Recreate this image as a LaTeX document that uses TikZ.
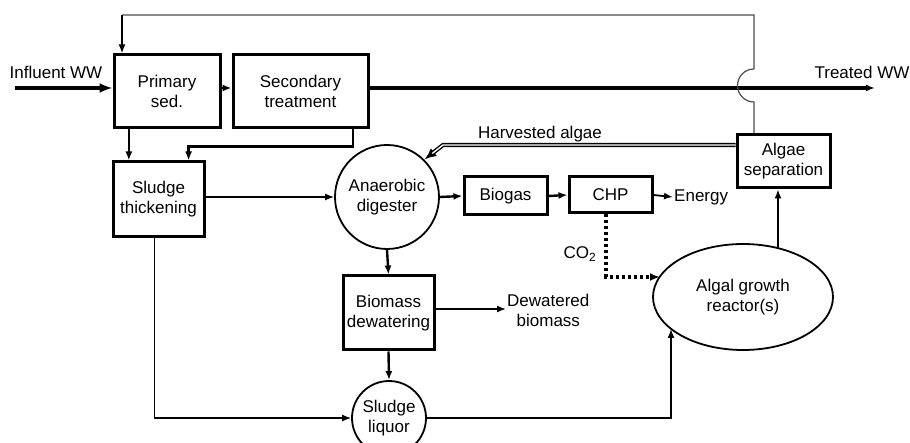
\documentclass[tikz,border=0pt]{standalone}
\usepackage{fontspec}
\setmainfont{Liberation Sans}
\usetikzlibrary{positioning, arrows.meta, calc, shapes.geometric}
\newcommand{\flowfont}{\fontsize{17}{20}\selectfont}
\tikzset{
  flowbox/.style   = {draw, line width=3pt, align=center, font=\flowfont, inner sep=2pt},
  flowround/.style = {draw, line width=1.8pt, align=center, font=\flowfont, inner sep=0pt},
  flowarr/.style   = {-{Latex[length=9pt,width=7pt]}, line width=2.4pt},
  flowarrt/.style  = {-{Latex[length=9pt,width=7pt]}, line width=1.4pt},
  flowlbl/.style   = {font=\flowfont, align=center, inner sep=1pt},
}

\begin{document}
\begin{tikzpicture}[x=1pt, y=-1pt]
    \useasboundingbox (0,0) rectangle (910,443);
    \clip (0,0) rectangle (910,443);
    % treatment units
    \node[flowbox, minimum width=106pt, minimum height=73pt] (prim) at (167,91.5) {Primary\\sed.};
    \node[flowbox, minimum width=135pt, minimum height=73pt] (sec) at (300.5,91.5) {Secondary\\treatment};
    \node[flowbox, minimum width=91pt, minimum height=75pt] (thick) at (158.5,199.5) {Sludge\\thickening};
    \node[flowround, circle, minimum size=104pt] (dig) at (387,197) {Anaerobic\\digester};
    \node[flowbox, minimum width=83pt, minimum height=38pt] (biogas) at (505.5,196) {Biogas};
    \node[flowbox, minimum width=83pt, minimum height=36pt] (chp) at (610.5,195) {CHP};
    \node[flowbox, minimum width=93pt, minimum height=53pt] (algsep) at (783.5,161.5) {Algae\\separation};
    \node[flowround, ellipse, minimum width=180pt, minimum height=106pt] (reactor) at (743,297) {Algal growth\\reactor(s)};
    \node[flowbox, minimum width=91pt, minimum height=74pt] (dewater) at (388.5,313) {Biomass\\dewatering};
    \node[flowround, circle, minimum size=74pt] (liquor) at (389,418) {Sludge\\liquor};
    % labels
    \node[flowlbl] (influent) at (56,72) {Influent WW};
    \node[flowlbl] (treatedlbl) at (862,72) {Treated WW};
    \node[flowlbl] (harvest) at (540,134) {Harvested algae};
    \node[flowlbl, anchor=west] (energy) at (673,197) {Energy};
    \node[flowlbl] (co2) at (580,254) {CO\textsubscript{2}};
    \node[flowlbl, anchor=west] (dried) at (506,310) {Dewatered\\biomass};
    % free ends and bends
    \coordinate (inflow) at (15,88);
    \coordinate (treated) at (875,88);
    \coordinate (rtop) at (122,15);
    \coordinate (rdown) at (754,133);
    \coordinate (harvbend) at (443,145);
    \coordinate (co2in) at (660,277);
    \coordinate (feedin) at (671,329);
    \coordinate (reactorout) at (778,248);
    \coordinate (primout) at ($(prim.south west)!0.15!(prim.south east)$);
    \coordinate (secout) at ($(sec.south west)!0.88!(sec.south east)$);
    \coordinate (thickin) at ($(thick.north west)!0.82!(thick.north east)$);
    \coordinate (thickout) at ($(thick.south west)!0.46!(thick.south east)$);
    % main water line
    \draw[flowarr, -{Latex[length=13pt,width=10pt]}, line width=3.2pt] (inflow) -- (inflow -| prim.west);
    \draw[flowarr] ([yshift=3.5pt]prim.east) -- ([yshift=3.5pt]sec.west);
    \draw[flowarr, line width=3.2pt] ([yshift=3.5pt]sec.east) -- (treated);
    % recycle over the top
    \draw[black!70, line width=1.2pt] (rdown) -- ++(0,-31) arc[start angle=270, end angle=90, radius=16.5pt] -- (rdown |- rtop) -- (rtop);
    \draw[flowarr] (rtop) -- (rtop |- prim.north);
    % sludge line
    \draw[flowarr] (primout) -- (primout |- thick.north);
    \draw[flowarr, line width=2.8pt] (secout) -- ++(0,17) -| (thickin);
    \draw[flowarrt] (thick.east |- dig.west) -- (dig.west);
    \draw[flowarr] (dig.east) -- (biogas.west);
    \draw[flowarr] (biogas.east) -- (chp.west);
    \draw[flowarrt, line width=1.8pt] (chp.east) -- (energy.west);
    \draw[flowarr] (dig.south) -- (dewater.north);
    \draw[flowarrt] ([yshift=4pt]dewater.east) -- ([yshift=4pt]dewater.east -| dried.west);
    \draw[flowarr] (dewater.south) -- (liquor.north);
    \draw[flowarrt] (thickout) |- (liquor.west);
    % algae loop
    \draw[flowarrt] (liquor.east) -| (feedin);
    \draw[flowarrt] (reactorout) -- (reactorout |- algsep.south);
    \draw[-{Latex[length=10pt,width=8pt]}, line width=3.2pt, dash pattern=on 3pt off 3pt] ([xshift=-4.5pt]chp.south) |- (co2in);
    \draw[-{Latex[length=12pt,width=10pt]}, line width=4.2pt] (algsep.west |- harvbend) -- (harvbend) -- (dig.45);
    \draw[white, line width=1.4pt, shorten >=10pt] (algsep.west |- harvbend) -- (harvbend) -- (dig.45);
  \end{tikzpicture}
\end{document}
